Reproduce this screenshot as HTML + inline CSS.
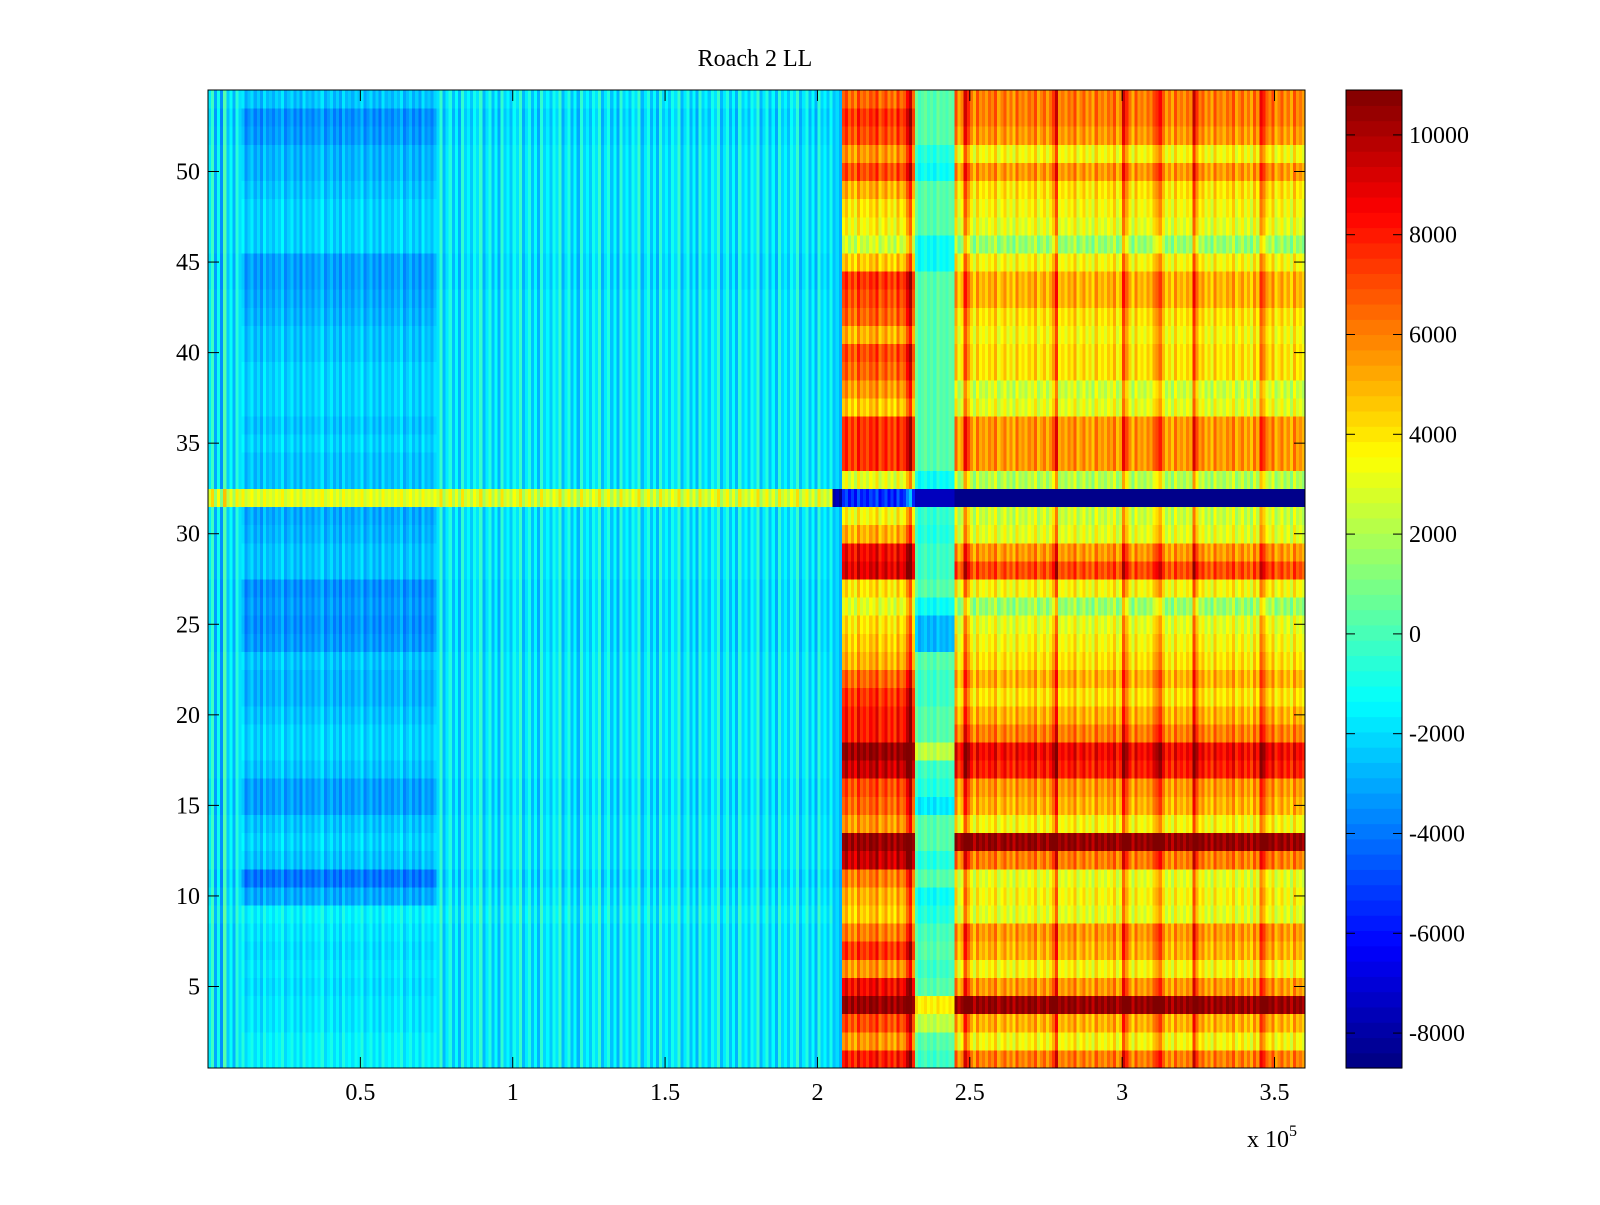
<!DOCTYPE html>
<html><head><meta charset="utf-8"><style>
html,body{margin:0;padding:0;background:#fff}
svg text{font-family:"Liberation Serif",serif;font-size:24px;fill:#000}
</style></head><body>
<svg id="chart" width="1600" height="1200" xmlns="http://www.w3.org/2000/svg">
<rect width="1600" height="1200" fill="#fff"/>
<text x="755" y="66" text-anchor="middle">Roach 2 LL</text>
<g id="cells" shape-rendering="crispEdges"></g>
<g id="cbar"></g>
<g id="axes"></g>
</svg>
<script>
// ---- data ----
const xMax = 360000;
const nRows = 54;
const colWidth = 1000;
const segStarts = [0, 11000, 75000, 205000, 208000, 232000, 245000];
const segEnds   = [11000, 75000, 205000, 208000, 232000, 245000, 360000];
const rowsLeft = [-1500,-1500,-1800,-1800,-2000,-1800,-2000,-1800,-1500,-3000,-4000,-2500,-2200,-2500,-3200,-3200,-2500,-2200,-2200,-2500,-2800,-2800,-2500,-3300,-3500,-3300,-3500,-2500,-2500,-2800,-3000,3000,-2500,-2500,-2200,-2500,-2200,-2200,-2200,-2500,-2500,-2800,-3000,-3200,-3200,-2200,-2200,-2200,-2500,-2800,-2800,-3300,-3500,-2500];
const rowsMid  = [-1700,-1700,-1700,-1700,-1700,-1700,-1700,-1700,-1400,-1700,-2000,-1700,-1700,-1700,-1900,-1900,-1700,-1700,-1700,-1700,-1700,-1700,-1700,-1900,-1900,-1900,-1900,-1700,-1700,-1700,-1700,2800,-1700,-1700,-1700,-1700,-1700,-1700,-1700,-1700,-1700,-1700,-1700,-1900,-1900,-1700,-1700,-1700,-1700,-1700,-1700,-1900,-2000,-1700];
const rowsTrans= [-2500,-2500,-2500,-2500,-2500,-2500,-2500,-2500,-2500,-2500,-2800,-2500,-2500,-2500,-2500,-2500,-2500,-2500,-2500,-2500,-2500,-2500,-2500,-2500,-2500,-2500,-2500,-2500,-2500,-2500,-2500,-8000,-2500,-2500,-2500,-2500,-2500,-2500,-2500,-2500,-2500,-2500,-2500,-2500,-2500,-2500,-2500,-2500,-2500,-2500,-2500,-2500,-2500,-2500];
const rowsRed  = [8000,5500,7000,10500,8500,5500,7500,6000,4500,5000,6000,9500,10500,5500,6500,7000,9500,10500,8000,8000,7500,6500,5000,4500,4000,3000,4000,9000,8500,5000,3500,-5500,3000,7500,7500,7500,4500,5500,6500,7000,5000,6500,7000,7500,4500,2500,3500,4000,5000,7000,5500,7000,7500,6500];
const rowsGap  = [-200,300,2300,3800,300,-200,300,0,-700,-1200,300,-700,300,300,-1700,-700,-200,2300,300,300,-200,-200,300,-2700,-2700,-1200,300,-200,-200,-700,-400,-7500,-1200,300,300,300,300,300,300,300,300,300,300,300,-1200,-1200,300,300,300,-1200,-700,300,300,300];
const rowsRight= [6000,3500,5000,10500,5500,3500,5000,5500,3000,3500,3000,6000,10500,3500,5000,5500,8000,8500,6000,5000,4000,5000,4000,3500,3000,1500,3500,7000,5500,3000,2500,-8500,2000,5500,5500,5500,3000,2500,4000,4000,3500,4000,5000,5000,3500,1500,3000,3500,4000,5500,3500,5500,6000,6000];
const segRows = [rowsMid, rowsLeft, rowsMid, rowsTrans, rowsRed, rowsGap, rowsRight];
const segAmp  = [2.2, 0.8, 1.4, 0.5, 1.2, 0.6, 1.2];
const stripe = [0, 700, -600, 300, -800, 900, -300, 200, -500, 500, -100, 1000, -700];
const spikeX = [230000, 249000, 278000, 301000, 312000, 324000, 346000];
const spikeAdd = 2500;
const xTicks = [50000, 100000, 150000, 200000, 250000, 300000, 350000];
const xTickLabels = ["0.5","1","1.5","2","2.5","3","3.5"];
const yTicks = [5,10,15,20,25,30,35,40,45,50];
const cTicks = [-8000,-6000,-4000,-2000,0,2000,4000,6000,8000,10000];
const cMin = -8700, cMax = 10900;

// ---- layout ----
const L=208, R=1305, T=90, B=1068;
const xs = v => L + v / xMax * (R - L);
const ys = v => T + (54.5 - v) / nRows * (B - T);
const cbL=1346, cbR=1402;
const cs = v => B - (v - cMin) / (cMax - cMin) * (B - T);
const NS="http://www.w3.org/2000/svg";
function jet(t){t=Math.max(0,Math.min(1,t));
 const f=(x)=>Math.max(0,Math.min(1,x));
 const r=f(1.5-Math.abs(4*t-3)), g=f(1.5-Math.abs(4*t-2)), b=f(1.5-Math.abs(4*t-1));
 return `rgb(${Math.round(r*255)},${Math.round(g*255)},${Math.round(b*255)})`;}
function el(tag,attrs,parent){const e=document.createElementNS(NS,tag);for(const k in attrs)e.setAttribute(k,attrs[k]);parent.appendChild(e);return e;}

const cells=document.getElementById('cells');
const nCols = Math.ceil(xMax/colWidth);
for(let c=0;c<nCols;c++){
 const x0=c*colWidth, xc=x0+colWidth/2;
 let s=0; for(let i=0;i<segStarts.length;i++){ if(xc>=segStarts[i]&&xc<segEnds[i]) s=i; }
 let add = stripe[c%stripe.length]*segAmp[s];
 for(const sx of spikeX){ if(Math.abs(xc-sx)<colWidth*0.8) add+=spikeAdd; }
 for(let r=1;r<=nRows;r++){
  const v=segRows[s][r-1]+(r===32&&s>=5?0:add);
  const rc=el('rect',{x:xs(x0),y:ys(r+0.5),width:xs(x0+colWidth)-xs(x0)+0.5,height:ys(r-0.5)-ys(r+0.5)+0.5,fill:jet((v-cMin)/(cMax-cMin))},cells);
  
  
 }
}
const cb=document.getElementById('cbar');
const nSteps=64;
for(let i=0;i<nSteps;i++){
 const v0=cMin+i*(cMax-cMin)/nSteps, v1=cMin+(i+1)*(cMax-cMin)/nSteps;
 const rc=el('rect',{x:cbL,y:cs(v1),width:cbR-cbL,height:cs(v0)-cs(v1)+0.6,fill:jet((i+0.5)/nSteps)},cb);
 
 
}
el('rect',{x:cbL,y:T,width:cbR-cbL,height:B-T,fill:'none',stroke:'#000','stroke-width':1},cb);
cTicks.forEach(v=>{const y=cs(v);
 el('line',{x1:cbL,x2:cbL+9,y1:y,y2:y,stroke:'#000'},cb);
 el('line',{x1:cbR-9,x2:cbR,y1:y,y2:y,stroke:'#000'},cb);
 const t=el('text',{x:1409,y:y+8},cb);t.textContent=String(v);
 
 
});
const ax=document.getElementById('axes');
el('rect',{x:L,y:T,width:R-L,height:B-T,fill:'none',stroke:'#000','stroke-width':1},ax);
xTicks.forEach((v,i)=>{const x=xs(v);
 el('line',{x1:x,x2:x,y1:B,y2:B-11,stroke:'#000'},ax);
 el('line',{x1:x,x2:x,y1:T,y2:T+11,stroke:'#000'},ax);
 const t=el('text',{x:x,y:B+32,'text-anchor':'middle'},ax);t.textContent=xTickLabels[i];
 
 
});
yTicks.forEach(v=>{const y=ys(v);
 el('line',{x1:L,x2:L+11,y1:y,y2:y,stroke:'#000'},ax);
 el('line',{x1:R-11,x2:R,y1:y,y2:y,stroke:'#000'},ax);
 const t=el('text',{x:200,y:y+8,'text-anchor':'end'},ax);t.textContent=String(v);
 
 
});
const ex=el('text',{x:1247,y:1147},ax);ex.innerHTML='x 10<tspan dy="-11" font-size="16">5</tspan>';


</script>
</body></html>
